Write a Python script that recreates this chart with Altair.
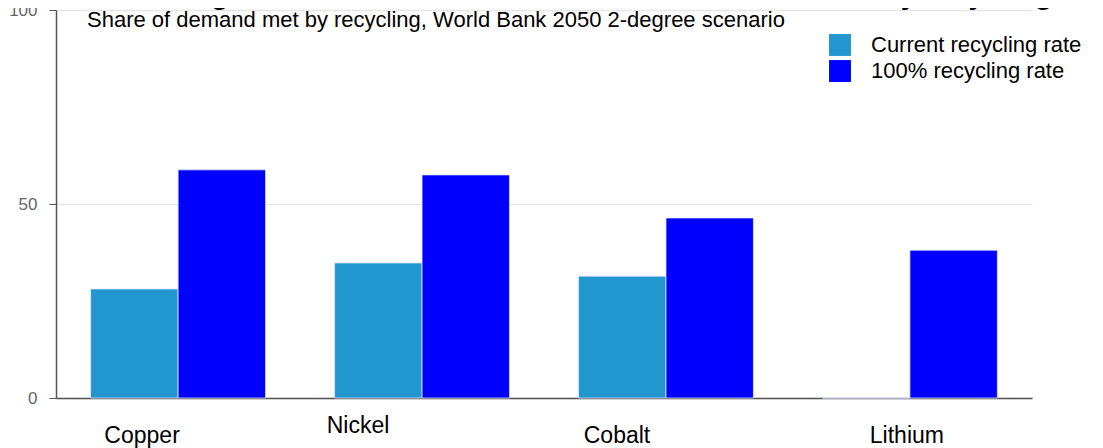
import altair as alt
import pandas as pd

minerals = ["Copper", "Nickel", "Cobalt", "Lithium"]
series = ["Current recycling rate", "100% recycling rate"]
current_rate = [28.1, 34.8, 31.4, 0.0]
full_rate = [58.8, 57.5, 46.4, 38.1]
colors = ["#2196CF", "#0000FF"]
y_ticks = [0, 50, 100]

rows = []
for m, c, f in zip(minerals, current_rate, full_rate):
    rows.append({"mineral": m, "series": series[0], "value": c})
    rows.append({"mineral": m, "series": series[1], "value": f})
df = pd.DataFrame(rows)

FONT = "Liberation Sans"

chart = alt.Chart(df).mark_bar(stroke="#dfe6ff", strokeWidth=0.8).encode(
    x=alt.X(
        "mineral:N",
        sort=minerals,
        title=None,
        scale=alt.Scale(paddingInner=0.283, paddingOuter=0.142),
        axis=alt.Axis(
            labelAngle=0,
            labelFont=FONT,
            labelFontSize=23,
            labelColor="#000000",
            ticks=False,
            domainColor="#555555",
            domainWidth=1.5,
            labelOffset={
                "condition": [
                    {"test": "datum.value == 'Copper'", "value": -36},
                    {"test": "datum.value == 'Nickel'", "value": -64},
                    {"test": "datum.value == 'Cobalt'", "value": -49},
                ],
                "value": -3,
            },
            labelPadding={
                "condition": {"test": "datum.value == 'Nickel'", "value": 16},
                "value": 26,
            },
        ),
    ),
    xOffset=alt.XOffset("series:N", sort=series, scale=alt.Scale(paddingInner=0, paddingOuter=0)),
    y=alt.Y(
        "value:Q",
        title=None,
        scale=alt.Scale(domain=[0, 100], nice=False),
        axis=alt.Axis(
            values=y_ticks,
            labelFont=FONT,
            labelFontSize=17,
            labelColor="#666666",
            tickColor="#555555",
            tickSize=7,
            labelPadding=12,
            domainColor="#555555",
            domainWidth=1.5,
            gridColor="#e6e6e6",
            gridWidth=1.5,
        ),
    ),
    color=alt.Color(
        "series:N",
        sort=series,
        scale=alt.Scale(domain=series, range=colors),
        legend=alt.Legend(
            title=None,
            orient="none",
            legendX=773,
            legendY=24,
            padding=0,
            symbolType="square",
            symbolSize=480,
            symbolStrokeWidth=0,
            symbolOpacity=1,
            labelFont=FONT,
            labelFontSize=22,
            labelColor="#000000",
            labelOffset=20,
            labelLimit=0,
            rowPadding=4,
        ),
    ),
).properties(
    width=976,
    height=388,
    autosize=alt.AutoSizeParams(type="none"),
    padding={"left": 48, "top": 2, "right": 60, "bottom": 50},
    title=alt.TitleParams(
        text="Share of global demand for selected critical minerals met by recycling",
        subtitle="Share of demand met by recycling, World Bank 2050 2-degree scenario",
        anchor="start",
        frame="group",
        dx=31,
        offset=-30,
        font=FONT,
        fontSize=29,
        fontWeight="bold",
        color="#000000",
        subtitleFont=FONT,
        subtitleFontSize=22,
        subtitleColor="#000000",
        subtitlePadding=0,
    ),
).configure_view(stroke=None)

chart.save("out.html", embed_options={"renderer": "svg", "actions": False})
